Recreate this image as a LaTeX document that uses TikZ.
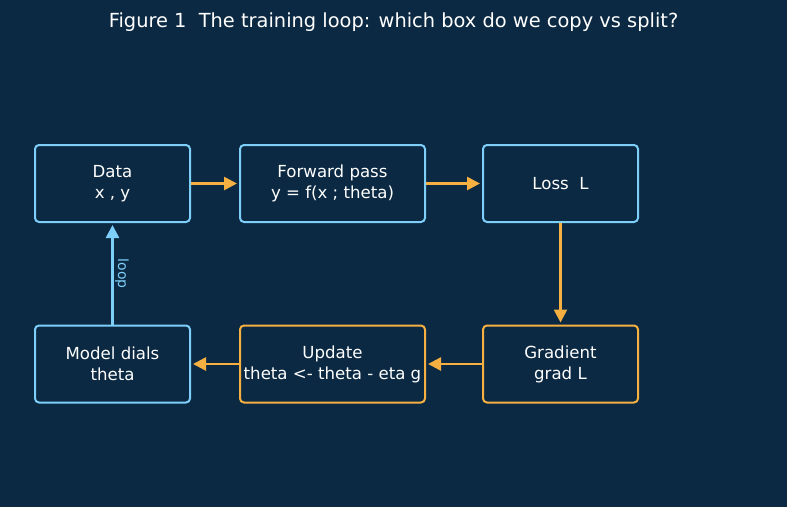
\documentclass[tikz,border=0pt]{standalone}
\usepackage{fontspec}
\setmainfont{DejaVu Sans}
\usepackage{tikz}
\usetikzlibrary{arrows.meta,positioning}
\definecolor{navy}{HTML}{0B2942}
\definecolor{skyline}{HTML}{7DCFFA}
\definecolor{amber}{HTML}{F5B041}
\tikzset{
  stage/.style={
    shape = rectangle,
    rounded corners = 4pt,
    draw,
    line width = 2pt,
    fill = navy,
    text = white,
    minimum height = 77pt,
    align = center,
    font = \fontsize{16.6}{21}\selectfont
  },
  bluebox/.style={stage, draw = skyline},
  amberbox/.style={stage, draw = amber},
  flow/.style={
    draw = amber,
    line width = 2.6pt,
    -{Triangle[length=13pt,width=13pt]},
    shorten >= 2pt
  },
  backflow/.style={
    flow,
    draw = skyline
  }
}
\begin{document}
\begin{tikzpicture}[x=1pt,y=-1pt]
    \useasboundingbox[fill=navy] (0,0) rectangle (787,507);
    \def\ytop{183.5}
    \def\ybot{364}
        \node[text=white, font=\fontsize{19.4}{22}\selectfont] (title) at (393.5,22) {Figure 1\ \ The training loop: which box do we copy vs split?};
        % top row
        \node[bluebox, minimum width=155pt] (data) at (112.5,\ytop) {Data\\x , y};
        \node[bluebox, minimum width=185pt] (fwd) at (332.5,\ytop) {Forward pass\\y = f(x ; theta)};
        \node[bluebox, minimum width=155pt] (loss) at (560.5,\ytop) {Loss\ \ L};
        % bottom row
        \node[bluebox, minimum width=155pt] (dials) at (112.5,\ybot) {Model dials\\theta};
        \node[amberbox, minimum width=185pt] (upd) at (332.5,\ybot) {Update\\theta <- theta - eta g};
        \node[amberbox, minimum width=155pt] (grad) at (560.5,\ybot) {Gradient\\grad L};
        \draw[flow] (data) -- (fwd);
        \draw[flow] (fwd) -- (loss);
        \draw[flow] (loss) -- (grad);
        \draw[flow] (grad) -- (upd);
        \draw[flow] (upd) -- (dials);
        \draw[backflow] (dials) -- node[rotate=-90, anchor=south, text=skyline, font=\fontsize{14}{16}\selectfont, inner sep=1.5pt] (looplbl) {loop} (data);
    \end{tikzpicture}
\end{document}
